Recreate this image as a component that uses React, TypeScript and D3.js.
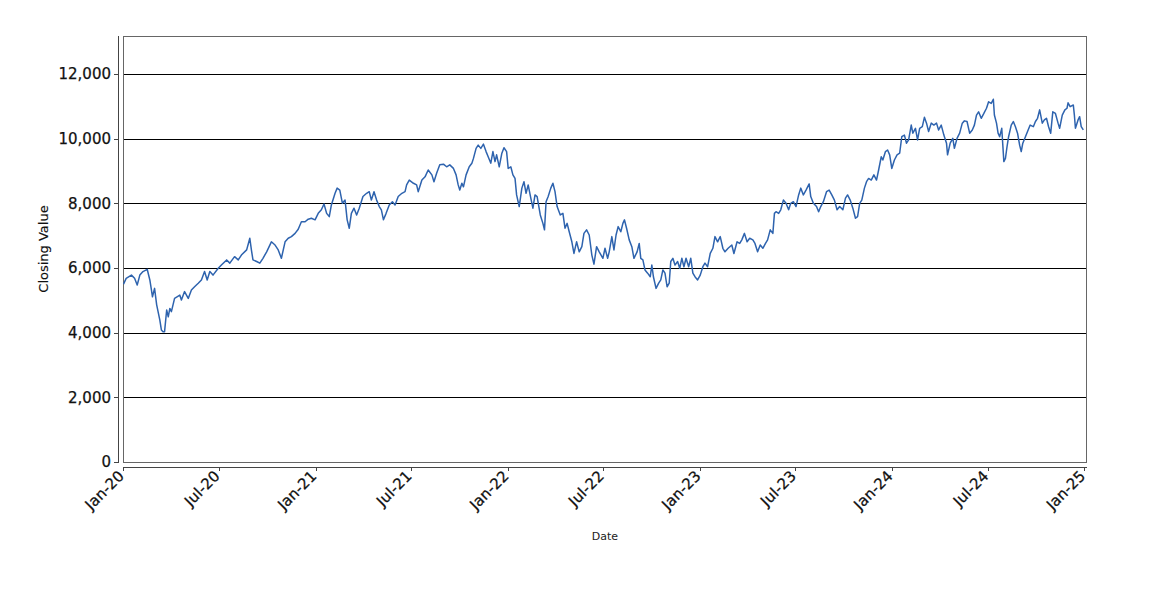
import React, { useEffect } from "react";
import * as d3 from "d3";

// Calendar days since 2020-01-01 for each sampled closing value
const dayOffsets = [
  1, 6, 16, 22, 27, 32, 38, 46, 51, 54, 56, 60, 64, 70, 73, 76, 79, 83, 86, 89, 92, 98, 108, 111, 117, 124, 130, 136, 143, 149,
  155, 160, 165, 171, 181, 187, 197, 203, 212, 219, 225, 235, 241, 244, 247, 254, 260, 266, 273, 282, 289, 295, 301, 308, 314,
  320, 327, 333, 339, 346, 352, 358, 365, 371, 377, 382, 387, 392, 396, 403, 407, 412, 417, 422, 426, 430, 434, 439, 444, 449,
  456, 463, 468, 472, 477, 482, 487, 491, 495, 500, 506, 512, 517, 523, 530, 536, 539, 544, 552, 558, 561, 568, 574, 580, 587,
  591, 596, 602, 609, 615, 621, 628, 633, 637, 640, 644, 647, 652, 658, 663, 666, 671, 675, 680, 685, 690, 694, 699, 703, 707,
  710, 715, 720, 724, 729, 732, 737, 741, 745, 748, 753, 758, 762, 766, 770, 775, 779, 783, 787, 793, 798, 801, 804, 808, 813,
  817, 821, 825, 831, 836, 840, 844, 848, 853, 857, 862, 867, 872, 876, 881, 886, 891, 895, 900, 905, 912, 916, 921, 924, 929,
  933, 937, 941, 946, 950, 953, 957, 962, 967, 971, 977, 981, 984, 988, 992, 997, 1002, 1005, 1008, 1013, 1018, 1022, 1026, 1030,
  1034, 1038, 1041, 1045, 1049, 1054, 1058, 1062, 1066, 1070, 1075, 1079, 1083, 1087, 1092, 1097, 1102, 1106, 1111, 1116, 1121,
  1125, 1130, 1135, 1140, 1144, 1150, 1157, 1161, 1167, 1172, 1176, 1181, 1186, 1191, 1197, 1201, 1206, 1211, 1216, 1221, 1225,
  1230, 1235, 1238, 1241, 1246, 1250, 1255, 1260, 1265, 1269, 1274, 1279, 1284, 1288, 1293, 1298, 1304, 1307, 1312, 1318, 1322,
  1326, 1331, 1337, 1342, 1347, 1352, 1357, 1362, 1368, 1373, 1377, 1382, 1387, 1392, 1396, 1400, 1404, 1409, 1413, 1417, 1422,
  1427, 1432, 1436, 1441, 1444, 1449, 1453, 1457, 1461, 1466, 1471, 1476, 1480, 1485, 1489, 1493, 1498, 1501, 1506, 1510, 1514,
  1519, 1523, 1527, 1531, 1536, 1541, 1546, 1550, 1555, 1560, 1565, 1567, 1572, 1577, 1580, 1585, 1590, 1595, 1599, 1604, 1609,
  1614, 1618, 1622, 1626, 1631, 1636, 1641, 1645, 1650, 1654, 1656, 1660, 1663, 1666, 1670, 1674, 1677, 1680, 1683, 1688, 1692,
  1696, 1700, 1704, 1707, 1710, 1715, 1719, 1724, 1730, 1734, 1738, 1742, 1747, 1751, 1755, 1759, 1763, 1767, 1772, 1777, 1780,
  1785, 1790, 1794, 1796, 1800, 1806, 1808, 1810, 1815, 1818, 1821, 1825,
];

const closes = [
  5500, 5680, 5780, 5680, 5475, 5780, 5890, 5960, 5630, 5320, 5110, 5370, 4860, 4390, 4080, 4030, 4030, 4700, 4490, 4750, 4650,
  5060, 5160, 5010, 5270, 5060, 5320, 5420, 5530, 5630, 5890, 5630, 5890, 5780, 5990, 6090, 6250, 6150, 6350, 6250, 6400, 6560,
  6920, 6560, 6250, 6200, 6150, 6300, 6500, 6810, 6710, 6560, 6300, 6810, 6920, 6970, 7070, 7200, 7430, 7430, 7510, 7540, 7490,
  7690, 7800, 7980, 7690, 7590, 7950, 8310, 8470, 8410, 8000, 8100, 7490, 7230, 7690, 7850, 7640, 7850,
  8210, 8310, 8360, 8100, 8360, 8100, 7900, 7800, 7490, 7690, 7950, 8050, 7950, 8210, 8310, 8360, 8570, 8720, 8620, 8570, 8360,
  8720, 8820, 9030, 8880, 8670, 8930, 9190, 9210, 9130, 9190, 9080, 8880, 8570, 8410, 8620, 8510, 8880, 9130, 9240, 9390, 9700,
  9800, 9700, 9830, 9600, 9440, 9240, 9600, 9290, 9500, 9130, 9550, 9720, 9600, 9080, 9130, 8880, 8770, 8260, 7900, 8470, 8670,
  8310, 8570, 8160, 7850, 8260, 8210, 7640, 7380, 7180, 8050, 8210, 8470, 8620, 8360, 7900, 7640, 7690, 7230, 7380, 7120, 6810,
  6450, 6810, 6500, 6660, 7070, 7180, 7020, 6400, 6120, 6660, 6500,
  6300, 6610, 6300, 6500, 6970, 6560, 7020, 7280, 7120, 7380, 7490, 7230, 6870, 6660, 6300, 6500, 6760, 6300, 6250, 5940, 5840,
  5730, 6090, 5730, 5370, 5530, 5630, 5940, 5840, 5420, 5530, 6200, 6300, 6090, 6200, 5990, 6300, 6040, 6300, 6040, 6300, 5840,
  5730, 5630, 5780, 6040, 6150, 6040, 6450, 6610, 6970, 6810, 6970, 6610, 6500, 6610, 6710, 6450, 6810, 6760, 6870, 7070, 6810,
  6920, 6870, 6760, 6500, 6710, 6610, 6760, 6870, 7180, 7070, 7690, 7740, 7690, 7800, 8100, 8000, 7800, 8000, 8050, 7900, 8260,
  8470, 8260, 8410, 8600, 8210, 8000, 7900, 7740, 7900, 8050, 8360, 8410, 8260, 8100, 7800, 7900,
  7800, 8160, 8260, 8100, 7850, 7540, 7590, 8000, 8100, 8470, 8670, 8770, 8720, 8880, 8720, 9030, 9440, 9340, 9600, 9650, 9500,
  9080, 9340, 9500, 9550, 10060, 10110, 9860, 9960, 10420, 10170, 10320, 9960, 10320, 10370, 10660, 10480, 10220, 10480, 10420,
  10480, 10270, 10420, 10110, 9860, 9500, 9860, 10010, 9700, 10010, 10170, 10480, 10550, 10530, 10170, 10270, 10420, 10730, 10830,
  10630, 10780, 10940, 11140, 11090, 11220, 10730, 10480, 10170, 10060, 10320, 9290, 9390, 9750, 10060, 10420, 10530, 10370, 10170,
  9800, 9600, 9860, 10060, 10220, 10420, 10370, 10530, 10630, 10890, 10480, 10580, 10630, 10370, 10170, 10830, 10780, 10480, 10320,
  10730, 10890, 10940, 11110, 10990, 11040, 10730, 10320, 10580, 10680, 10370, 10270,
];

const yTicks = [0, 2000, 4000, 6000, 8000, 10000, 12000];
const xTickDates = [
  "2020-01-01", "2020-07-01", "2021-01-01", "2021-07-01", "2022-01-01", "2022-07-01",
  "2023-01-01", "2023-07-01", "2024-01-01", "2024-07-01", "2025-01-01",
];
const xTickLabels = ["Jan-20", "Jul-20", "Jan-21", "Jul-21", "Jan-22", "Jul-22", "Jan-23", "Jul-23", "Jan-24", "Jul-24", "Jan-25"];

const FONT = "'DejaVu Sans', sans-serif";

export default function App() {
  useEffect(() => {
    document.body.style.margin = "0";
  }, []);

  const W = 1150;
  const H = 600;
  const left = 123;
  const right = 1087;
  const top = 36;
  const bottom = 462;

  const start = new Date(2020, 0, 1);
  const parse = d3.timeParse("%Y-%m-%d");
  const x = d3
    .scaleTime()
    .domain([start, new Date(2025, 0, 6)])
    .range([left, right]);
  const y = d3.scaleLinear().domain([0, 13175]).range([bottom, top]);

  const data = dayOffsets.map((d, i) => ({ date: d3.timeDay.offset(start, d), value: closes[i] }));
  const line = d3
    .line<{ date: Date; value: number }>()
    .x((d) => x(d.date))
    .y((d) => y(d.value));

  const fmt = d3.format(",");

  return (
    <svg width={W} height={H} style={{ display: "block", background: "#fff" }} fontFamily={FONT}>
      <rect x={0} y={0} width={W} height={H} fill="#fff" />
      {/* gridlines */}
      {yTicks.map((t) => (
        <line key={"g" + t} x1={left} x2={right} y1={Math.round(y(t)) + 0.5} y2={Math.round(y(t)) + 0.5} stroke="#000" strokeWidth={1} />
      ))}
      {/* plot outline */}
      <rect x={left + 0.5} y={top + 0.5} width={right - left - 1} height={bottom - top} fill="none" stroke="#666" strokeWidth={1} />
      {/* series */}
      <path d={line(data) || ""} fill="none" stroke="#2e63ae" strokeWidth={1.5} strokeLinejoin="round" />
      {/* y axis */}
      <line x1={118.5} x2={118.5} y1={top} y2={bottom + 1} stroke="#444" strokeWidth={1} />
      {yTicks.map((t) => (
        <g key={"y" + t}>
          <line x1={114} x2={118} y1={Math.round(y(t)) + 0.5} y2={Math.round(y(t)) + 0.5} stroke="#444" />
          <text x={111} y={y(t)} dy="0.36em" textAnchor="end" fontSize={15} fill="#111" stroke="#111" strokeWidth={0.25}>
            {fmt(t)}
          </text>
        </g>
      ))}
      <text
        transform={`translate(${48},${(top + bottom) / 2}) rotate(-90)`}
        textAnchor="middle"
        fontSize={13}
        fill="#111"
        stroke="#111"
        strokeWidth={0.15}
      >
        Closing Value
      </text>
      {/* x axis */}
      <line x1={left} x2={right} y1={467.5} y2={467.5} stroke="#444" strokeWidth={1} />
      {xTickDates.map((ds, i) => {
        const px = x(parse(ds) as Date);
        return (
          <g key={ds}>
            <line x1={Math.round(px) + 0.5} x2={Math.round(px) + 0.5} y1={467} y2={471} stroke="#444" />
            <text
              transform={`translate(${px + 2},${477}) rotate(-45)`}
              textAnchor="end"
              fontSize={15}
              fill="#111"
              stroke="#111"
              strokeWidth={0.25}
            >
              {xTickLabels[i]}
            </text>
          </g>
        );
      })}
      <text x={(left + right) / 2} y={540} textAnchor="middle" fontSize={11} fill="#222">
        Date
      </text>
    </svg>
  );
}
